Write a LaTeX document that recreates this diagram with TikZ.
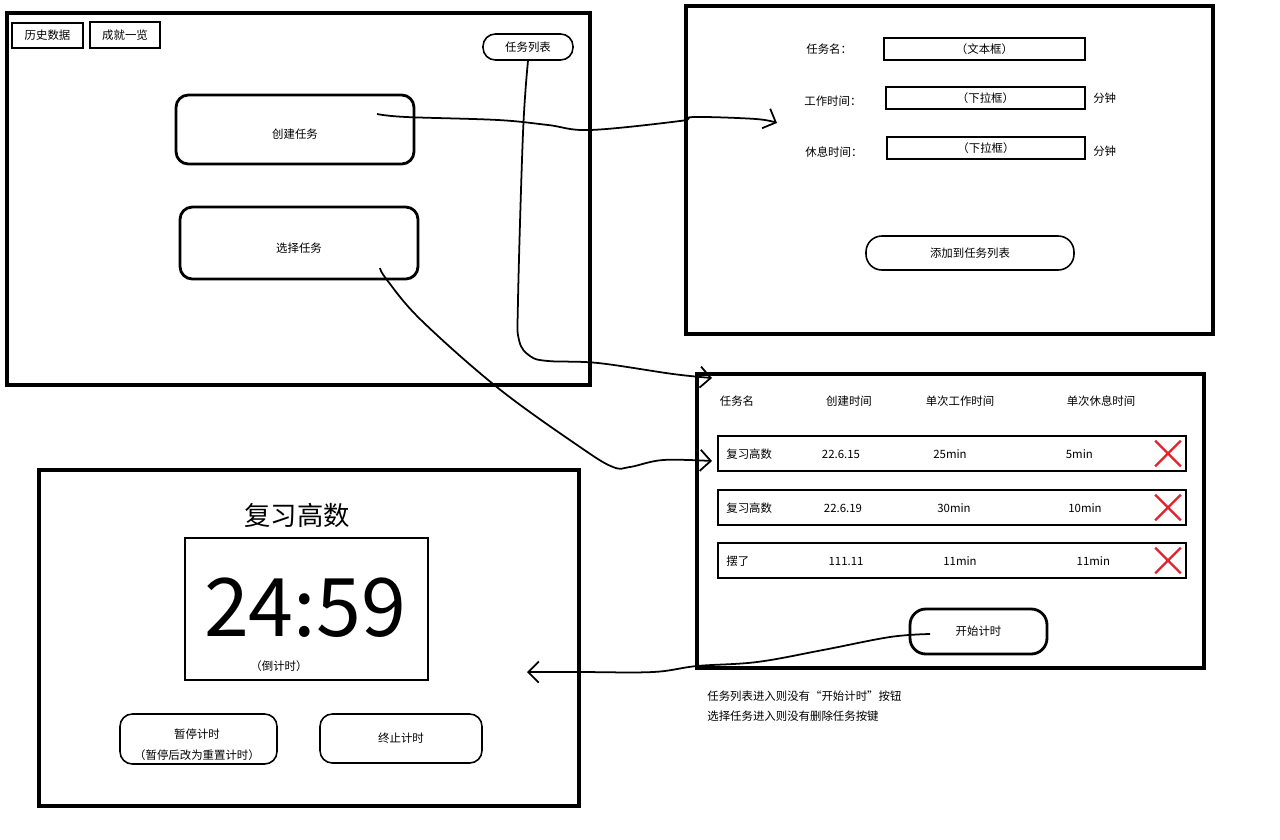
\documentclass[tikz,border=0pt]{standalone}
\usepackage{fontspec}
\setmainfont{Noto Sans CJK SC}
\usetikzlibrary{positioning, arrows.meta}
\definecolor{markred}{RGB}{225,35,45}
\tikzstyle{screen} = [draw, rectangle, line width=1.9pt]
\tikzstyle{tabbox} = [draw, rectangle, line width=1.1pt]
\tikzstyle{button} = [draw, rectangle, rounded corners=7pt, line width=1.6pt]
\tikzstyle{softbutton} = [draw, rectangle, rounded corners=7pt, line width=0.9pt]
\tikzstyle{field} = [draw, rectangle, line width=1.1pt]
\tikzstyle{rowbox} = [draw, rectangle, line width=1.3pt,
    minimum width=9.36cm, minimum height=0.7cm]
\tikzstyle{lbl} = [anchor=west, inner sep=0pt]
\tikzstyle{flow} = [line width=1pt, -{Straight Barb[length=6pt, width=12pt]}]
\tikzstyle{delmark} = [markred, line width=1.3pt]

\begin{document}
\begin{tikzpicture}[x=0.02cm, y=-0.02cm, node distance=0.14cm,
    font=\fontsize{6.5}{8}\selectfont]
        \useasboundingbox (0,0) rectangle (1280,839);

        % home screen
        \node[screen, minimum width=11.66cm, minimum height=7.44cm] (home) at (298.5,199) {};
        \node[tabbox, minimum width=1.42cm, minimum height=0.5cm] (history) at (47.5,35.5) {历史数据};
        \node[tabbox, minimum width=1.4cm, minimum height=0.52cm] (achieve) at (125,35) {成就一览};
        \node[softbutton, minimum width=1.8cm, minimum height=0.52cm] (tasklist) at (528,47) {任务列表};
        \node[button, minimum width=4.76cm, minimum height=1.38cm, text height=0.36cm, text depth=0pt] (create) at (295,129.5) {创建任务};
        \node[button, minimum width=4.76cm, minimum height=1.44cm, text height=0.36cm, text depth=0pt] (select) at (299,243) {选择任务};

        % create task form
        \node[screen, minimum width=10.54cm, minimum height=6.56cm] (form) at (949.5,170) {};
        \node[lbl] (namelbl) at (806,49) {任务名：};
        \node[field, minimum width=4.02cm, minimum height=0.44cm] (namebox) at (984.5,49) {（文本框）};
        \node[lbl] (worklbl) at (804,101) {工作时间：};
        \node[field, minimum width=3.98cm, minimum height=0.4cm] (workbox) at (985.5,98) {（下拉框）};
        \node[lbl, right=of workbox] (workunit) {分钟};
        \node[lbl] (restlbl) at (805,152) {休息时间：};
        \node[field, minimum width=3.96cm, minimum height=0.4cm] (restbox) at (986,148) {（下拉框）};
        \node[lbl, right=of restbox, yshift=-0.06cm] (restunit) {分钟};
        \node[softbutton, rounded corners=9pt, minimum width=4.16cm, minimum height=0.68cm] (addbtn) at (970,253) {添加到任务列表};

        % task list
        \node[screen, minimum width=10.14cm, minimum height=5.88cm] (list) at (950.5,521) {};
        \node (hname) at (737,401) {任务名};
        \node (hdate) at (849,401) {创建时间};
        \node (hwork) at (960,401) {单次工作时间};
        \node (hrest) at (1101,401) {单次休息时间};
        \foreach \y/\name/\date/\work/\rest/\dx [count=\i] in
            {453.5/复习高数/22.6.15/25min/5min/-4,
             507.5/复习高数/22.6.19/30min/10min/0,
             560.5/摆了/111.11/11min/11min/6}{
            \node[rowbox] (row\i) at (952,\y) {};
            \node[lbl] (name\i) at (726,\y+1) {\name};
            \node (date\i) at (843+\dx*0.5,\y+1) {\date};
            \node (work\i) at (954+\dx,\y+1) {\work};
            \node (rest\i) at (1085+\dx*1.4,\y+1) {\rest};
            \node[minimum size=0.5cm, inner sep=0pt] (del\i) at (1168,\y) {};
            \draw[delmark] (del\i.north west) -- (del\i.south east)
                (del\i.north east) -- (del\i.south west);
        }
        \node[button, rounded corners=9pt, minimum width=2.74cm, minimum height=0.9cm] (startbtn) at (978.5,631.5) {开始计时};
        \node[lbl] (note1) at (707,696) {任务列表进入则没有“开始计时”按钮};
        \node[lbl] (note2) at (707,716) {选择任务进入则没有删除任务按键};

        % timer screen
        \node[screen, minimum width=10.8cm, minimum height=6.72cm] (timer) at (309,638) {};
        \node[font=\fontsize{15}{18}\selectfont] (title) at (297,515) {复习高数};
        \node[field, minimum width=4.86cm, minimum height=2.84cm] (clock) at (306.5,609) {};
        \node[font=\fontsize{46}{55}\selectfont] (digits) at (305,608) {24:59};
        \node (countdown) at (279,666) {（倒计时）};
        \node[softbutton, minimum width=3.14cm, minimum height=1cm] (pause) at (198.5,739) {};
        \node[align=center] (pausetext) at (197,745) {暂停计时\\[4pt]（暂停后改为重置计时）};
        \node[softbutton, minimum width=3.24cm, minimum height=0.98cm] (stop) at (401,738.5) {终止计时};

        % connectors
        \coordinate (pickcreate) at (377,114);
        \coordinate (pickselect) at (380,268);
        \coordinate (pickstart) at (930,634);
        \coordinate (formin) at (777,123);
        \coordinate (listtop) at (712,378);
        \coordinate (listrow) at (712,461);
        \coordinate (timerin) at (527,672);

        \draw[flow] plot[smooth, tension=0.6] coordinates {(pickcreate) (406,117) (498,120)
            (548,125) (590,130) (680,121) (694,117) (756,119) (formin)};
        \draw[flow] plot[smooth, tension=0.6] coordinates {(tasklist.south) (523,133) (518,300)
            (519,340) (530,356) (548,361) (598,363) (673,374) (listtop)};
        \draw[flow] plot[smooth, tension=0.6] coordinates {(pickselect) (387,280) (421,320)
            (498,388) (580,447) (613,467) (630,467) (663,460) (listrow)};
        \draw[flow] plot[smooth, tension=0.6] coordinates {(pickstart) (890,637) (823,650)
            (757,662) (697,666) (653,672) (580,672) (timerin)};
    \end{tikzpicture}
\end{document}
